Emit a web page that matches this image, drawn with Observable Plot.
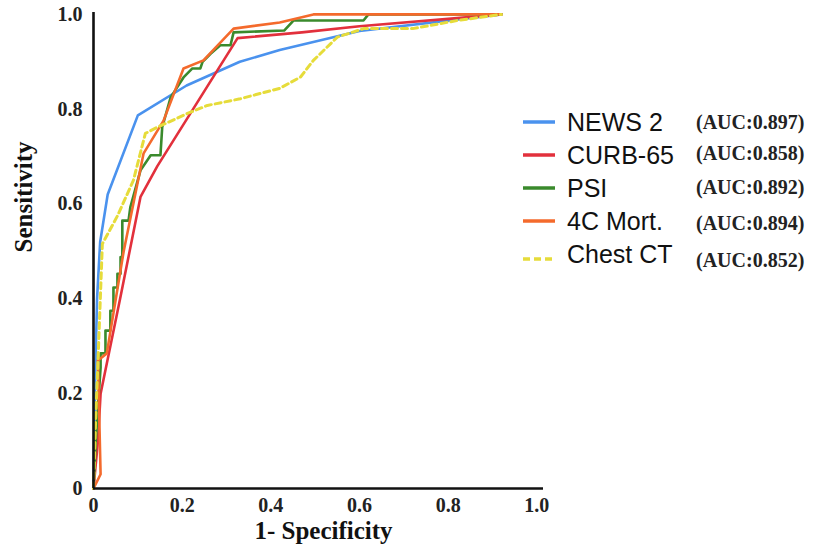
<!DOCTYPE html>
<html><head><meta charset="utf-8">
<script src="https://cdn.jsdelivr.net/npm/d3@7"></script>
<script src="https://cdn.jsdelivr.net/npm/@observablehq/plot@0.6"></script>
<style>
body{margin:0;background:#fff;}
#wrap{position:relative;width:831px;height:558px;overflow:hidden;}
#legend{position:absolute;left:0;top:0;}
.row{position:absolute;left:522px;height:34px;width:300px;}
.lab{font-family:"Liberation Sans",Arial,sans-serif;font-size:25px;line-height:34px;color:#111;position:absolute;left:45px;top:0;white-space:nowrap;}
.auc{font-family:"Liberation Serif","Times New Roman",serif;font-weight:bold;font-size:20px;line-height:34px;color:#222;position:absolute;left:174px;white-space:nowrap;}
</style>
</head><body>
<div id="wrap"><div id="legend"></div></div>
<script>
const seriesNames = ["NEWS 2","CURB-65","PSI","4C Mort.","Chest CT"];
const aucLabels = ["(AUC:0.897)","(AUC:0.858)","(AUC:0.892)","(AUC:0.894)","(AUC:0.852)"];
const seriesColors = ["#4a92ee","#e2303c","#3a8a2c","#f46a2c","#e6dc3a"];
const xTicks = [0,0.2,0.4,0.6,0.8,1.0];
const yTicks = [0,0.2,0.4,0.6,0.8,1.0];

const news2 = [[0,0],[0.003,0.2],[0.008,0.4],[0.015,0.52],[0.032,0.62],[0.10,0.787],[0.21,0.85],[0.33,0.90],[0.42,0.925],[0.6,0.965],[0.92,1.0]];
const curb65 = [[0,0],[0.01,0.1],[0.016,0.2],[0.06,0.40],[0.106,0.615],[0.144,0.68],[0.325,0.95],[0.47,0.962],[0.6,0.975],[0.92,1.0]];
const psi = [[0,0],[0.005,0.1],[0.012,0.2],[0.016,0.255],[0.016,0.285],[0.027,0.285],[0.027,0.333],[0.038,0.333],[0.038,0.375],[0.045,0.375],[0.045,0.424],[0.054,0.424],[0.054,0.453],[0.061,0.453],[0.061,0.488],[0.065,0.488],[0.065,0.565],[0.079,0.565],[0.083,0.593],[0.106,0.671],[0.129,0.703],[0.151,0.703],[0.155,0.762],[0.174,0.825],[0.203,0.867],[0.223,0.886],[0.241,0.886],[0.246,0.9],[0.264,0.917],[0.286,0.935],[0.309,0.935],[0.316,0.962],[0.43,0.966],[0.451,0.987],[0.609,0.987],[0.62,1.0],[0.92,1.0]];
const c4mort = [[0,0],[0.016,0.03],[0.01,0.27],[0.03,0.285],[0.068,0.50],[0.113,0.707],[0.158,0.776],[0.203,0.886],[0.248,0.903],[0.316,0.97],[0.42,0.983],[0.496,1.0],[0.92,1.0]];
const chestCT = [[0,0],[0.005,0.15],[0.011,0.29],[0.02,0.516],[0.054,0.575],[0.09,0.65],[0.117,0.749],[0.144,0.762],[0.212,0.791],[0.257,0.808],[0.331,0.822],[0.42,0.844],[0.467,0.868],[0.496,0.903],[0.55,0.952],[0.609,0.97],[0.72,0.97],[0.82,0.987],[0.92,1.0]];

const allSeries = [news2, curb65, psi, c4mort, chestCT];
const rows = allSeries.flatMap((pts, i) => pts.map(([x, y]) => ({series: seriesNames[i], x, y})));
const fmt = d => d === 0 ? "0" : d.toFixed(1);

const chart = Plot.plot({
  width: 831, height: 558,
  marginLeft: 93, marginRight: 288, marginTop: 12, marginBottom: 70,
  style: {fontFamily: '"Liberation Serif","Times New Roman",serif', fontWeight: "bold", fontSize: "20px", color: "#222", background: "white"},
  x: {domain: [0, 1.015], ticks: xTicks, tickFormat: fmt, tickSize: 0, tickPadding: 9, label: null},
  y: {domain: [0, 1.004], ticks: yTicks, tickFormat: fmt, tickSize: 0, tickPadding: 11, label: null},
  color: {domain: seriesNames, range: seriesColors},
  marks: [
    Plot.line(rows.filter(d => d.series !== "Chest CT"), {x: "x", y: "y", z: "series", stroke: "series", strokeWidth: 2.6, curve: "linear"}),
    Plot.line(rows.filter(d => d.series === "Chest CT"), {x: "x", y: "y", stroke: "series", strokeWidth: 3, strokeDasharray: "6,4", curve: "linear"}),
    Plot.ruleX([0], {stroke: "#111", strokeWidth: 2.6}),
    Plot.ruleY([0], {stroke: "#111", strokeWidth: 2.6}),
    Plot.text(["1- Specificity"], {frameAnchor: "bottom", dx: 5, dy: 50, fontSize: 25, fontWeight: "bold", fill: "#111"}),
    Plot.text(["Sensitivity"], {frameAnchor: "left", rotate: -90, dx: -70, dy: 2, fontSize: 25, fontWeight: "bold", fill: "#111"})
  ]
});
document.getElementById("wrap").prepend(chart);

const aucShift = [0, -2, -1, 2, 6];
const legend = document.getElementById("legend");
seriesNames.forEach((name, i) => {
  const row = document.createElement("div");
  row.className = "row";
  row.style.top = (105 + i * 33) + "px";
  const dashed = name === "Chest CT";
  row.innerHTML = `<svg width="34" height="34" style="position:absolute;left:0;top:0"><line x1="1" y1="${dashed ? 22 : 17}" x2="33" y2="${dashed ? 22 : 17}" stroke="${seriesColors[i]}" stroke-width="3.5" ${dashed ? 'stroke-dasharray="7,4"' : ''}/></svg>` +
    `<span class="lab">${name}</span><span class="auc" style="top:${aucShift[i]}px">${aucLabels[i]}</span>`;
  legend.appendChild(row);
});
</script>
</body></html>
